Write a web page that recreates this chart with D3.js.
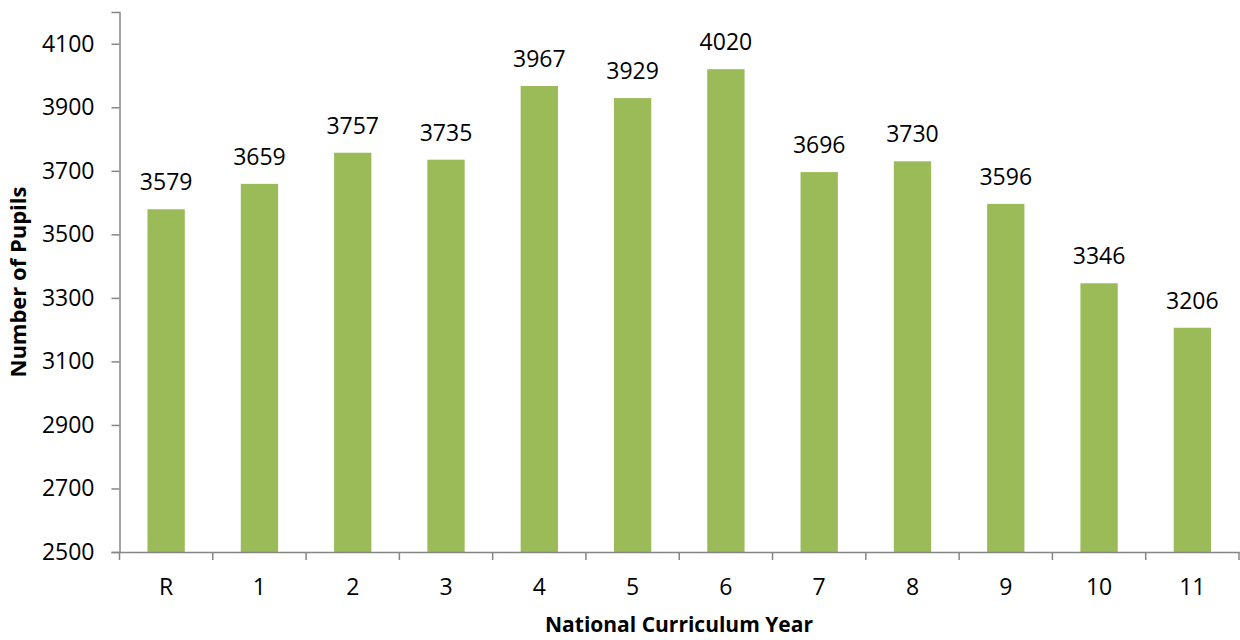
<!DOCTYPE html>
<html>
<head>
<meta charset="utf-8">
<script src="https://cdn.jsdelivr.net/npm/d3@7"></script>
<style>
  html, body { margin: 0; padding: 0; background: #fff; }
  svg { display: block; font-family: "Open Sans", "Noto Sans", sans-serif; }
</style>
</head>
<body>
<svg id="chart" width="1240" height="640"></svg>
<script>
const categories = ["R", "1", "2", "3", "4", "5", "6", "7", "8", "9", "10", "11"];
const pupils = [3579, 3659, 3757, 3735, 3967, 3929, 4020, 3696, 3730, 3596, 3346, 3206];
const yTicks = [2500, 2700, 2900, 3100, 3300, 3500, 3700, 3900, 4100];
const xTitle = "National Curriculum Year";
const yTitle = "Number of Pupils";

(function () {
const svg = d3.select("#chart");
const mLeft = 119.5, mRight = 1239, mTop = 12, mBottom = 552;
const fs = 23;

const x = d3.scaleBand().domain(categories).range([mLeft, mRight]).paddingInner(0.6).paddingOuter(0.3);
const y = d3.scaleLinear().domain([2500, 4200]).range([mBottom, mTop]);

const data = categories.map((c, i) => ({ c, v: pupils[i] }));

svg.append("g").selectAll("rect").data(data).join("rect")
  .attr("x", d => x(d.c))
  .attr("width", x.bandwidth())
  .attr("y", d => y(d.v))
  .attr("height", d => y(2500) - y(d.v))
  .attr("fill", "#9BBB59");

svg.append("g").selectAll("text").data(data).join("text")
  .attr("x", d => x(d.c) + x.bandwidth() / 2)
  .attr("y", d => y(d.v) - 19)
  .attr("text-anchor", "middle")
  .attr("font-size", fs)
  .attr("fill", "#000")
  .text(d => d.v);

// Y axis
const yAxis = d3.axisLeft(y).tickValues(yTicks).tickSize(8).tickPadding(17).tickFormat(d3.format("d"));
const gy = svg.append("g").attr("transform", `translate(${mLeft},0)`).call(yAxis);
gy.select(".domain").attr("stroke", "#868686").attr("stroke-width", 1.5);
gy.selectAll(".tick line").attr("stroke", "#868686").attr("stroke-width", 1.5);
gy.selectAll(".tick text").attr("font-size", fs).attr("fill", "#000").attr("font-family", "Open Sans");

// X axis
const xAxis = d3.axisBottom(x).tickSize(0).tickPadding(27);
const gx = svg.append("g").attr("transform", `translate(0,${mBottom})`).call(xAxis);
gx.select(".domain").attr("stroke", "#868686").attr("stroke-width", 1.5);
gx.selectAll(".tick text").attr("font-size", fs).attr("fill", "#000").attr("font-family", "Open Sans");
// Boundary ticks between categories
const step = x.step();
const bounds = d3.range(categories.length + 1).map(i => mLeft + i * step);
svg.append("g").selectAll("line").data(bounds).join("line")
  .attr("x1", d => d).attr("x2", d => d)
  .attr("y1", mBottom).attr("y2", mBottom + 8)
  .attr("stroke", "#868686").attr("stroke-width", 1.5);

svg.append("text")
  .attr("x", 679)
  .attr("y", 632)
  .attr("text-anchor", "middle")
  .attr("font-size", 21)
  .attr("font-weight", "bold")
  .text(xTitle);

svg.append("text")
  .attr("transform", `translate(26,${(mTop + mBottom) / 2}) rotate(-90)`)
  .attr("text-anchor", "middle")
  .attr("font-size", 22)
  .attr("font-weight", "bold")
  .text(yTitle);
})();
</script>
</body>
</html>
